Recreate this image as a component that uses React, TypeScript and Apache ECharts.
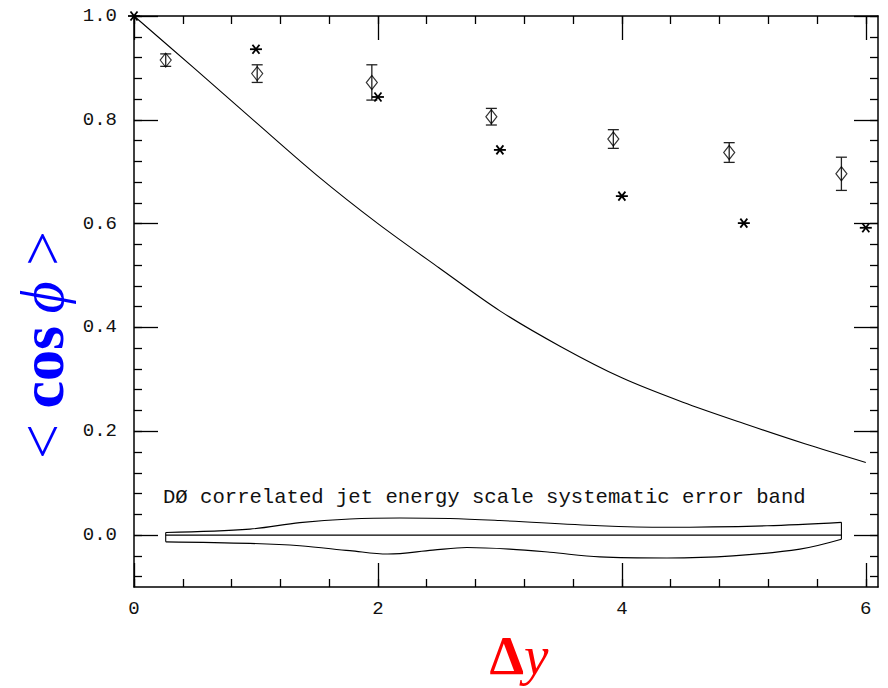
import React, { useEffect, useRef } from "react";
import * as echarts from "echarts";

// ---- data ----
const diamondX = [0.26, 1.01, 1.95, 2.93, 3.93, 4.88, 5.8];
const diamondY = [0.915, 0.889, 0.872, 0.806, 0.763, 0.737, 0.696];
const diamondErr = [0.012, 0.017, 0.034, 0.016, 0.018, 0.019, 0.032];

const starX = [0, 1, 2, 3, 4, 5, 6];
const starY = [1.0, 0.936, 0.844, 0.742, 0.653, 0.601, 0.592];

const curveX = [0, 0.5, 1, 1.5, 2, 2.5, 3, 3.5, 4, 4.5, 5, 5.5, 6];
const curveY = [1.0, 0.898, 0.795, 0.693, 0.6, 0.515, 0.432, 0.363, 0.303, 0.256, 0.215, 0.176, 0.14];

const bandUpperX = [0.26, 0.95, 1.36, 1.77, 2.18, 2.59, 3.0, 3.82, 4.37, 5.19, 5.8];
const bandUpperY = [0.005, 0.0115, 0.024, 0.031, 0.033, 0.032, 0.028, 0.018, 0.015, 0.018, 0.0245];
const bandLowerX = [0.26, 0.95, 1.36, 1.77, 2.08, 2.45, 2.73, 3.08, 3.41, 3.82, 4.37, 4.91, 5.46, 5.8];
const bandLowerY = [-0.013, -0.016, -0.0205, -0.03, -0.0365, -0.029, -0.024, -0.027, -0.033, -0.042, -0.044, -0.04, -0.027, -0.008];
const bandMidX = [0.26, 5.8];
const bandMidY = [0, 0];

const xMajorTicks = [0, 2, 4, 6];
const yMajorTicks = [0, 0.2, 0.4, 0.6, 0.8, 1.0];
const xMinorTicks = Array.from({ length: 16 }, (_, i) => +(i * 0.4).toFixed(2));
const yMinorTicks = Array.from({ length: 28 }, (_, i) => +((i - 2) * 0.04).toFixed(2));

const bandLabel = "DØ correlated jet energy scale systematic error band";

const X_MIN = 0, X_MAX = 6.1, Y_MIN = -0.1, Y_MAX = 1.0;

export default function App() {
  const ref = useRef<HTMLDivElement>(null);
  useEffect(() => {
    if (!ref.current) return;
    const chart = echarts.init(ref.current, null, { renderer: "svg" });
    const lineStyle = { color: "#000", width: 1.5 };
    const tickLine = { color: "#000", width: 1.3 };
    const labelFont = { fontFamily: "Liberation Mono", fontSize: 19, color: "#111" };

    const mkX = (pos: string, major: boolean) => ({
      type: "value",
      min: X_MIN,
      max: X_MAX,
      position: pos,
      axisLine: { show: major, onZero: false, lineStyle },
      axisTick: {
        show: true,
        inside: true,
        length: major ? 24 : 8,
        customValues: major ? xMajorTicks : xMinorTicks,
        lineStyle: tickLine,
      },
      axisLabel: {
        show: major && pos === "bottom",
        customValues: xMajorTicks,
        margin: 12,
        formatter: (v: number) => String(v),
        ...labelFont,
      },
      splitLine: { show: false },
    });
    const mkY = (pos: string, major: boolean) => ({
      type: "value",
      min: Y_MIN,
      max: Y_MAX,
      position: pos,
      axisLine: { show: major, onZero: false, lineStyle },
      axisTick: {
        show: true,
        inside: true,
        length: major ? 24 : 8,
        customValues: major ? yMajorTicks : yMinorTicks,
        lineStyle: tickLine,
      },
      axisLabel: {
        show: major && pos === "left",
        customValues: yMajorTicks,
        margin: 17,
        formatter: (v: number) => v.toFixed(1),
        ...labelFont,
      },
      splitLine: { show: false },
    });

    const thin = { color: "#000", width: 1.1 };
    const plainLine = (data: number[][], smooth: number | boolean) => ({
      type: "line",
      data,
      smooth,
      symbol: "none",
      showSymbol: false,
      lineStyle: thin,
      silent: true,
    });

    const option: any = {
      animation: false,
      backgroundColor: "#fff",
      grid: { left: 134, right: 10, top: 16, bottom: 101, containLabel: false },
      xAxis: [mkX("bottom", true), mkX("bottom", false), mkX("top", true), mkX("top", false)],
      yAxis: [mkY("left", true), mkY("left", false), mkY("right", true), mkY("right", false)],
      series: [
        plainLine(curveX.map((x, i) => [x, curveY[i]]), 0.3),
        plainLine(bandUpperX.map((x, i) => [x, bandUpperY[i]]), 0.35),
        plainLine(bandLowerX.map((x, i) => [x, bandLowerY[i]]), 0.35),
        plainLine([[bandUpperX[0], bandUpperY[0]], [bandLowerX[0], bandLowerY[0]]], false),
        plainLine(
          [
            [bandUpperX[bandUpperX.length - 1], bandUpperY[bandUpperY.length - 1]],
            [bandLowerX[bandLowerX.length - 1], bandLowerY[bandLowerY.length - 1]],
          ],
          false
        ),
        plainLine(bandMidX.map((x, i) => [x, bandMidY[i]]), false),
        {
          type: "custom",
          data: diamondX.map((x, i) => [x, diamondY[i], diamondErr[i]]),
          renderItem: (params: any, api: any) => {
            const x = api.value(0), y = api.value(1), e = api.value(2);
            const top = api.coord([x, y + e]);
            const bot = api.coord([x, y - e]);
            const hw = 5.5;
            const st = { stroke: "#222", lineWidth: 1.3 };
            return {
              type: "group",
              children: [
                { type: "line", shape: { x1: top[0], y1: top[1], x2: bot[0], y2: bot[1] }, style: st },
                { type: "line", shape: { x1: top[0] - hw, y1: top[1], x2: top[0] + hw, y2: top[1] }, style: st },
                { type: "line", shape: { x1: bot[0] - hw, y1: bot[1], x2: bot[0] + hw, y2: bot[1] }, style: st },
              ],
            };
          },
          silent: true,
        },
        {
          type: "scatter",
          data: diamondX.map((x, i) => [x, diamondY[i]]),
          symbol: "diamond",
          symbolSize: [11, 14],
          itemStyle: { color: "rgba(0,0,0,0)", borderColor: "#000", borderWidth: 1.2 },
          silent: true,
        },
        {
          type: "custom",
          clip: false,
          data: starX.map((x, i) => [x, starY[i]]),
          renderItem: (params: any, api: any) => {
            const p = api.coord([api.value(0), api.value(1)]);
            const st = { stroke: "#000", lineWidth: 1.8 };
            return {
              type: "group",
              children: [
                { type: "line", shape: { x1: p[0] - 6, y1: p[1], x2: p[0] + 6, y2: p[1] }, style: st },
                { type: "line", shape: { x1: p[0] - 3.5, y1: p[1] - 4.5, x2: p[0] + 3.5, y2: p[1] + 4.5 }, style: st },
                { type: "line", shape: { x1: p[0] - 3.5, y1: p[1] + 4.5, x2: p[0] + 3.5, y2: p[1] - 4.5 }, style: st },
              ],
            };
          },
          silent: true,
        },
      ],
      graphic: [
        {
          type: "text",
          x: 163,
          y: 497,
          style: {
            text: bandLabel,
            fontFamily: "Liberation Mono",
            fontSize: 20.6,
            fill: "#111",
            align: "left",
            verticalAlign: "middle",
          },
        },
        {
          type: "text",
          x: 42,
          y: 345,
          rotation: Math.PI / 2,
          style: {
            text: "{a|<} {b|cos}{c|\u2009ϕ} {a|>}",
            align: "center",
            verticalAlign: "middle",
            fill: "#0000ff",
            rich: {
              a: { fontFamily: "Liberation Serif", fontSize: 62, fill: "#0000ff" },
              b: { fontFamily: "Liberation Serif", fontSize: 62, fontWeight: "bold", fill: "#0000ff" },
              c: { fontFamily: "Liberation Serif", fontSize: 62, fontStyle: "italic", fill: "#0000ff" },
            },
            fontFamily: "Liberation Serif",
            fontSize: 62,
          },
        },
        {
          type: "text",
          x: 519,
          y: 655,
          style: {
            text: "{a|Δ}{b|y}",
            align: "center",
            verticalAlign: "middle",
            fill: "#ff0000",
            rich: {
              a: { fontFamily: "Liberation Serif", fontSize: 55, fontWeight: "bold", fill: "#ff0000" },
              b: { fontFamily: "Liberation Serif", fontSize: 55, fontStyle: "italic", fill: "#ff0000" },
            },
            fontFamily: "Liberation Serif",
            fontSize: 55,
          },
        },
      ],
    };
    chart.setOption(option);
    return () => chart.dispose();
  }, []);
  return (
    <div
      ref={ref}
      style={{ position: "fixed", left: 0, top: 0, width: 888, height: 688, background: "#fff" }}
    />
  );
}
